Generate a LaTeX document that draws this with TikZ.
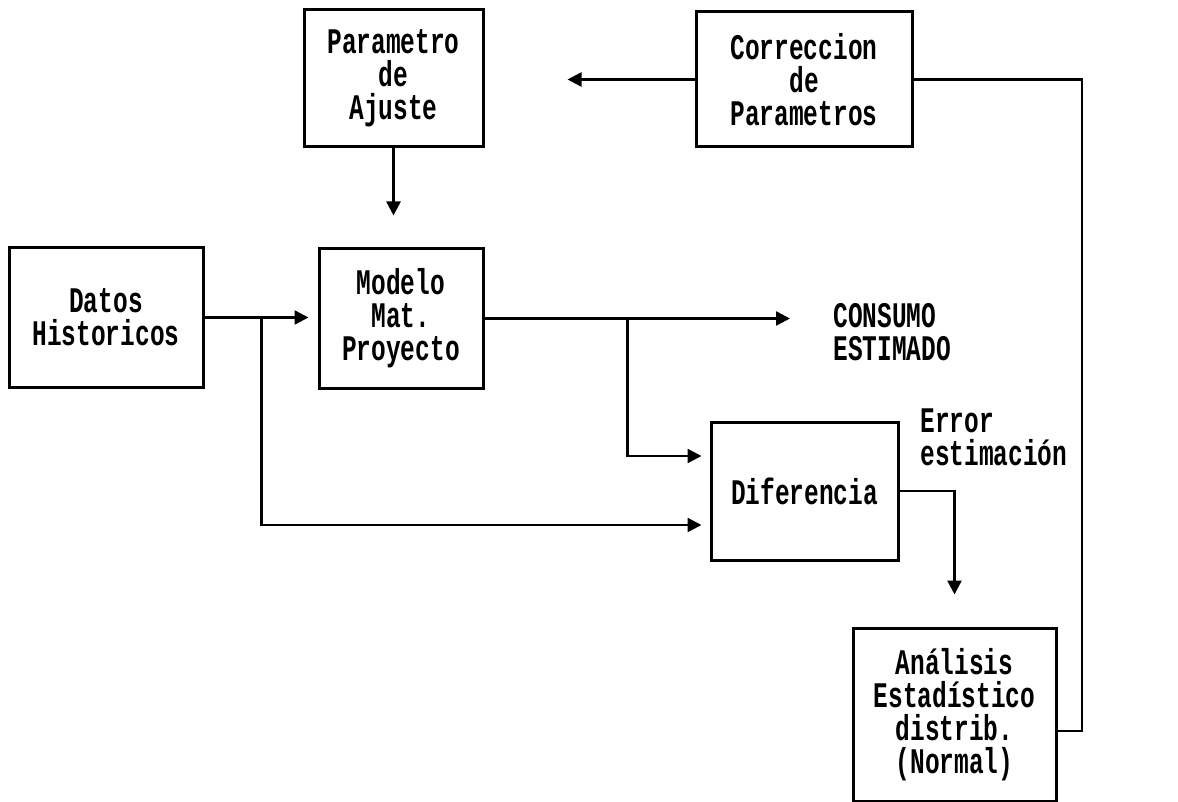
\documentclass[tikz,border=0pt]{standalone}
\usepackage{fontspec}
\newfontfamily\diagfont[FakeStretch=0.68]{Liberation Mono}
\usetikzlibrary{arrows.meta,calc}
\definecolor{txt}{HTML}{000000}
\definecolor{bxB}{HTML}{000000}
\definecolor{bxF}{HTML}{FFFFFF}

\begin{document}
\begin{tikzpicture}[x=0.5pt,y=-0.5pt,text=txt,font=\diagfont\bfseries\fontsize{18}{16.5}\selectfont,
  >={Triangle[length=7pt,width=7pt]},
  blk/.style={draw=bxB,fill=bxF,line width=1.5pt,align=center,inner sep=2pt},
  fl/.style={line width=1.25pt,draw=bxB},
  lbl/.style={align=left,inner sep=0pt}]
\useasboundingbox (0,0) rectangle (1178,802);

\node[blk,minimum width=89.5pt,minimum height=68.5pt] (par) at (393.5,78.5) {Parametro\\de\\Ajuste};
\node[blk,minimum width=108pt,minimum height=67.5pt] (cor) at (804,79.5) {Correccion\\de\\Parametros};
\node[blk,minimum width=97pt,minimum height=69.5pt] (dat) at (106,317.5) {Datos\\Historicos};
\node[blk,minimum width=82pt,minimum height=69.5pt] (mod) at (401,318.5) {Modelo\\Mat.\\Proyecto};
\node[blk,minimum width=93.5pt,minimum height=69pt] (dif) at (804.5,491) {Diferencia};
\node[blk,minimum width=101.5pt,minimum height=86.5pt] (ana) at (954.5,714.5) {Análisis\\Estadístico\\distrib.\\(Normal)};

\node[lbl,anchor=west] (con) at (833,332) {CONSUMO\\ESTIMADO};
\node[lbl,anchor=north west] (err) at (920,408) {Error\\estimación};

% feedback loop
\draw[fl,->,shorten >=41.5pt] (cor.west) -- (cor.west -| par.east);
\coordinate (fb) at (1082,731);
\draw[fl] (ana.east |- fb) -- (fb) |- (cor.east);
\draw[fl,->,shorten >=16pt] (par.south) -- (par.south |- mod.north);

% main flow
\draw[fl,->,shorten >=4.5pt] (dat.east) -- (dat.east -| mod.west);
\coordinate (s1) at ([xshift=28.5pt]dat.east);
\draw[fl,->,shorten >=4pt] (s1) |- ([yshift=-17pt]dif.west);
\draw[fl,->,shorten >=21.5pt] (mod.east) -- (mod.east -| con.west);
\coordinate (s2) at ([xshift=71.5pt]mod.east);
\draw[fl,->,shorten >=4pt] (s2) |- ([yshift=17.5pt]dif.west);
\draw[fl,->,shorten >=16pt] (dif.east) -| (ana.north);

\end{tikzpicture}
\end{document}
